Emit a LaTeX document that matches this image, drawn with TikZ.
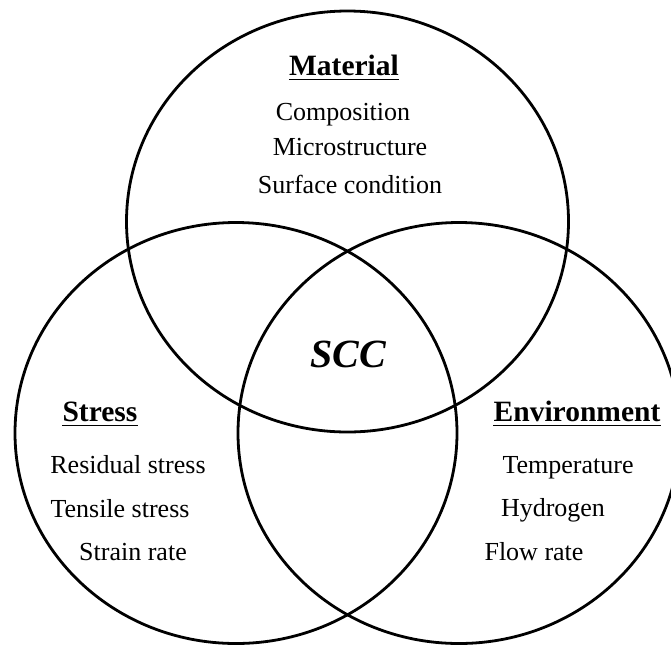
\documentclass[tikz,border=0pt]{standalone}
\usepackage{fontspec}
\setmainfont{Liberation Serif}
\begin{document}
\begin{tikzpicture}[x=1pt,y=-1pt,
  ring/.style={line width=2.8pt},
  body/.style={font=\fontsize{26}{30}\selectfont, inner sep=0pt, anchor=base},
  head/.style={font=\fontsize{29.5}{34}\selectfont\bfseries, inner sep=0pt, anchor=base},
  uline/.style={line width=1.7pt}]
\useasboundingbox (0,0) rectangle (671,646);
\clip (0,0) rectangle (671,646);
\coordinate (cm) at (347.5,221.5);
\coordinate (cs) at (236,433);
\coordinate (ce) at (459,433);
\draw[ring] (cm) ellipse [x radius=221pt, y radius=210.5pt];
\draw[ring] (cs) ellipse [x radius=221pt, y radius=210.5pt];
\draw[ring] (ce) ellipse [x radius=221pt, y radius=210.5pt];
% Material
\node[head] (mat) at (344,75) {Material};
\draw[uline] ([yshift=-4.5pt]mat.base west) -- ([yshift=-4.5pt]mat.base east);
\node[body] (comp) at (343,120) {Composition};
\node[body] (micro) at (350,155) {Microstructure};
\node[body] (surf) at (350,193) {Surface condition};
% SCC
\node[font=\fontsize{40}{44}\selectfont\bfseries\itshape, inner sep=0pt, anchor=base] (scc) at (348,367) {SCC};
% Stress
\node[head] (str) at (100,421) {Stress};
\draw[uline] ([yshift=-4.5pt]str.base west) -- ([yshift=-4.5pt]str.base east);
\node[body] (res) at (128,473) {Residual stress};
\node[body] (ten) at (120,517) {Tensile stress};
\node[body] (sra) at (133,560) {Strain rate};
% Environment
\node[head] (env) at (577,421) {Environment};
\draw[uline] ([yshift=-4.5pt]env.base west) -- ([yshift=-4.5pt]env.base east);
\node[body] (temp) at (568,473) {Temperature};
\node[body] (hyd) at (553,516) {Hydrogen};
\node[body] (flow) at (534,560) {Flow rate};
\end{tikzpicture}
\end{document}
